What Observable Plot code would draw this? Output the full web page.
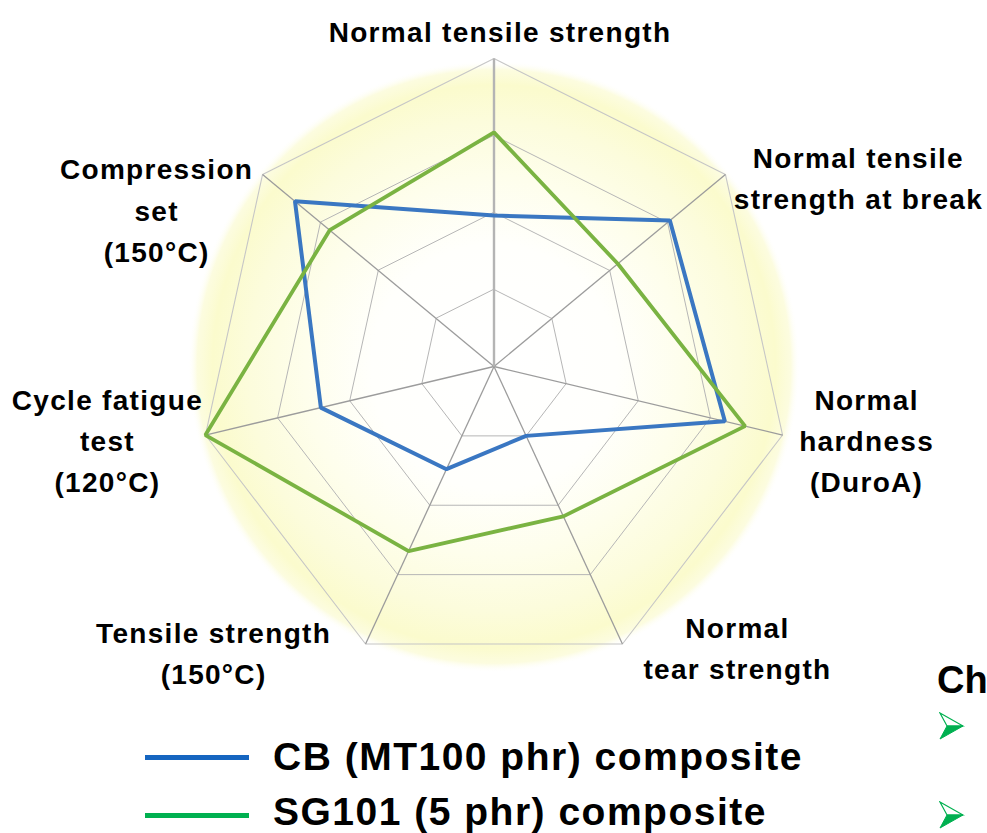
<!DOCTYPE html>
<html><head><meta charset="utf-8">
<script src="https://cdn.jsdelivr.net/npm/d3@7"></script>
<script src="https://cdn.jsdelivr.net/npm/@observablehq/plot@0.6"></script>
<style>
html,body{margin:0;padding:0;background:#fff;}
#wrap{position:relative;width:987px;height:833px;overflow:hidden;font-family:"Liberation Sans",Arial,sans-serif;font-weight:bold;color:#000;}
#chart{position:absolute;left:0;top:0;}
.lg-line{position:absolute;left:145px;width:104px;height:5px;}
.lg-text{position:absolute;left:273px;font-size:39px;line-height:39px;letter-spacing:1.5px;white-space:nowrap;}
.side{position:absolute;white-space:nowrap;}
</style></head>
<body>
<div id="wrap">
  <div id="chart"></div>
  <div id="legend"></div>
  <div class="side" id="ch" style="left:937px;top:661px;font-size:38px;line-height:38px;">Ch</div>
  <svg class="side" style="left:939px;top:712px;" width="26" height="28" viewBox="0 0 26 28">
    <polygon points="1,1 24,14 8,14" fill="#ffffff" stroke="#00b050" stroke-width="1.2" stroke-linejoin="miter"/>
    <polygon points="8,14 24,14 1,27" fill="#00b050" stroke="#00b050" stroke-width="1"/>
  </svg>
  <svg class="side" style="left:939px;top:801px;" width="26" height="28" viewBox="0 0 26 28">
    <polygon points="1,1 24,14 8,14" fill="#ffffff" stroke="#00b050" stroke-width="1.2" stroke-linejoin="miter"/>
    <polygon points="8,14 24,14 1,27" fill="#00b050" stroke="#00b050" stroke-width="1"/>
  </svg>
</div>
<script>
// ---- data ----
const axes = [
  "Normal tensile strength",
  "Normal tensile\nstrength at break",
  "Normal\nhardness\n(DuroA)",
  "Normal\ntear strength",
  "Tensile strength\n(150°C)",
  "Cycle fatigue\ntest\n(120°C)",
  "Compression\nset\n(150°C)"
];
const cbValues = [0.49, 0.76, 0.80, 0.25, 0.37, 0.60, 0.86];
const sgValues = [0.76, 0.535, 0.87, 0.54, 0.665, 1.0, 0.71];
const gridLevels = [0.25, 0.5, 0.75, 1];
const seriesNames = ["CB (MT100 phr) composite", "SG101 (5 phr) composite"];

// ---- styles / layout ----
const chartColors = ["#3a77c2", "#7ab342"];
const legendColors = ["#1565c0", "#00b050"];
const labelOffsets = [[6, -30], [133, 1], [84, 2.5], [115, 1.5], [-152, 6.5], [-98, 2.5], [-106, 33]];

const n = axes.length;
const ang = i => i * 2 * Math.PI / n;
const pt = (i, v) => ({i, x: Math.sin(ang(i)) * v, y: Math.cos(ang(i)) * v});

const gridData = gridLevels.flatMap(l => axes.map((a, i) => ({level: l, ...pt(i, l)})));
const spokes = axes.map((a, i) => pt(i, 1));
const seriesData = [cbValues, sgValues].map(vals => vals.map((v, i) => pt(i, v)));

const marks = [
  Plot.dot([{x: 0, y: 0}], {x: "x", y: "y", r: 306, fill: "url(#glow)", stroke: "none"}),
  Plot.line(gridData.filter(d => d.level < 1), {x: "x", y: "y", z: "level", curve: "linear-closed", stroke: "#b6b6b6", strokeWidth: 1}),
  Plot.line(gridData.filter(d => d.level === 1), {x: "x", y: "y", z: "level", curve: "linear-closed", stroke: "#c6c6c6", strokeWidth: 1.1}),
  Plot.link(spokes.filter(d => d.i !== 0), {x1: 0, y1: 0, x2: "x", y2: "y", stroke: "#9c9c9c", strokeWidth: 1.3}),
  Plot.link(spokes.filter(d => d.i === 0), {x1: 0, y1: 0, x2: "x", y2: "y", stroke: "#b4b4b4", strokeWidth: 2.4}),
  Plot.line(seriesData[0], {x: "x", y: "y", curve: "linear-closed", stroke: chartColors[0], strokeWidth: 4, strokeLinejoin: "miter"}),
  Plot.line(seriesData[1], {x: "x", y: "y", curve: "linear-closed", stroke: chartColors[1], strokeWidth: 3.8, strokeLinejoin: "miter"}),
  ...spokes.map((s, i) => Plot.text([s], {
    x: "x", y: "y", text: d => axes[d.i],
    dx: labelOffsets[i][0], dy: labelOffsets[i][1],
    textAnchor: "middle", lineAnchor: "middle", lineHeight: 1.47,
    fontSize: 28, fontWeight: "bold", fill: "#000"
  }))
];

const svg = Plot.plot({
  width: 987, height: 700,
  margin: 0,
  x: {domain: [-1, 1], range: [197.5, 789.5], axis: null},
  y: {domain: [-1, 1], range: [674, 58], axis: null},
  style: {fontFamily: "'Liberation Sans', Arial, sans-serif", letterSpacing: "1.3px", background: "transparent", overflow: "visible"},
  marks
});

const defs = d3.select(svg).insert("defs", ":first-child");
const grad = defs.append("radialGradient").attr("id", "glow");
[[0, "#ffffff", 1], [0.4, "#fffffc", 1], [0.62, "#fefeec", 1], [0.8, "#fcfcdc", 1], [0.92, "#fbfbcd", 1], [0.97, "#fbfbd2", 0.7], [1, "#ffffff", 0]]
  .forEach(([o, c, op]) => grad.append("stop").attr("offset", o).attr("stop-color", c).attr("stop-opacity", op));

document.getElementById("chart").appendChild(svg);

// ---- legend (HTML) ----
const legend = document.getElementById("legend");
const legendLineTops = [754.5, 812.5];
const legendTextTops = [737, 792];
seriesNames.forEach((name, k) => {
  const line = document.createElement("div");
  line.className = "lg-line";
  line.style.top = legendLineTops[k] + "px";
  line.style.background = legendColors[k];
  legend.appendChild(line);
  const t = document.createElement("div");
  t.className = "lg-text";
  t.style.top = legendTextTops[k] + "px";
  t.textContent = name;
  legend.appendChild(t);
});
</script>
</body></html>
